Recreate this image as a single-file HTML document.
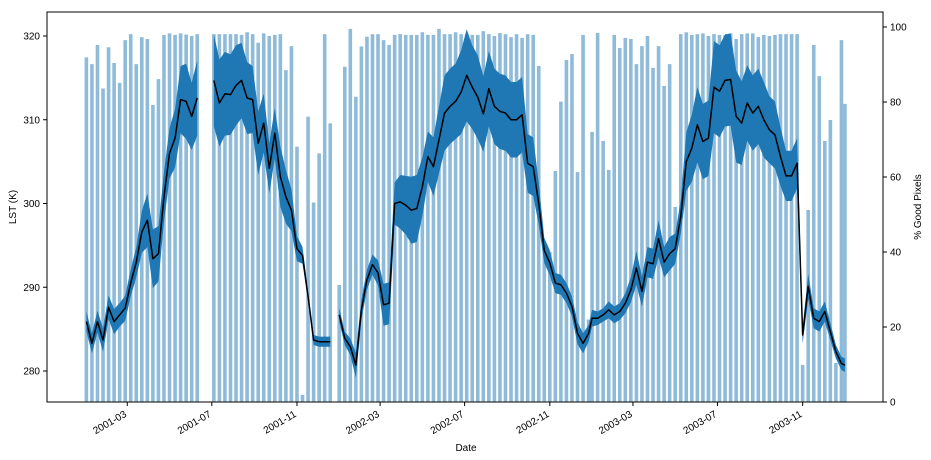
<!DOCTYPE html>
<html><head><meta charset="utf-8"><style>
body{margin:0;background:#fff;}
svg{display:block;font-family:"Liberation Sans",sans-serif;}
</style></head><body>
<svg id="chart" width="931" height="460"></svg>
<script>
const years=[2001,2002,2003,2004];
const compositesPerYear=[46,46,46,1];
const goodPct=[91.9,90.1,95.2,83.6,94.6,90.4,85.1,96.5,98.1,90.1,97.3,96.8,79.2,86.1,97.9,98.3,97.9,98.3,98.0,97.6,98.1,null,null,98.1,98.1,98.1,98.1,98.1,97.9,98.6,98.1,95.8,98.3,97.6,97.9,98.1,88.5,94.9,68.1,1.9,76.1,53.2,66.3,98.1,74.3,null,
31.2,89.4,99.5,81.4,94.8,97.4,98.1,98.1,96.5,95.2,97.9,98.1,97.9,97.9,97.9,98.6,97.9,97.9,99.5,98.1,98.1,98.6,98.1,98.1,97.9,97.9,98.9,98.1,97.6,98.4,98.1,97.3,98.1,97.1,98.1,97.9,89.6,40,40,61.6,80.1,91.2,92.8,61.3,97.9,22,
72.0,98.4,69.6,61.9,97.9,94.4,97.1,96.8,90.1,94.9,97.6,89.1,94.9,84.3,90.1,52.0,98.1,98.6,97.9,98.1,98.3,97.6,98.1,97.9,97.9,98.3,96.8,98.1,98.3,98.3,97.3,97.9,97.6,97.9,98.1,98.1,98.1,98.1,9.9,51.2,95.2,86.9,69.6,75.2,10.4,96.5,
79.5];
const lstMean=[285.9,283.3,285.9,283.7,287.6,285.9,286.7,287.5,290.5,293.0,296.6,298.0,293.4,294.0,300.8,306.0,307.8,312.4,312.2,310.4,312.6,null,null,314.7,312.0,313.1,313.0,314.1,314.7,312.6,312.4,307.2,309.6,304.2,308.4,303.2,300.8,299.2,294.6,293.8,288.9,283.7,283.5,283.5,283.5,null,
286.7,283.9,282.9,280.7,287.3,290.9,292.7,291.7,287.9,288.1,300.0,300.2,299.8,299.2,299.4,302.0,305.6,304.4,307.6,310.8,311.6,312.2,313.3,315.3,313.9,312.7,310.7,313.7,311.6,311.0,310.8,310.0,310.0,310.6,304.8,304.4,300.0,294.4,292.9,290.5,290.3,289.3,287.7,284.5,283.3,284.5,
286.3,286.3,286.7,287.3,286.7,287.1,288.1,289.7,292.3,289.5,293.0,292.8,295.8,293.0,294.0,294.6,298.4,305.0,306.6,309.4,307.4,307.8,313.9,313.4,314.7,314.8,310.4,309.6,312.0,310.8,311.6,310.0,308.8,308.2,305.6,303.3,303.3,304.8,284.3,290.1,286.3,285.9,287.1,284.7,282.3,280.9,
280.7];
const lstStd=[1.2,1.2,1.3,1.4,1.4,1.5,1.4,1.5,1.6,1.8,2.5,3.2,3.5,3.3,3.0,3.0,3.5,4.0,4.5,4.0,4.5,null,null,5.5,5.2,5.0,4.8,4.8,4.5,4.3,4.0,3.8,3.5,3.0,3.0,3.6,3.2,2.5,1.5,1.0,0.6,0.6,0.6,0.6,0.6,null,
0.8,0.8,1.0,1.5,1.2,1.2,1.2,1.5,2.5,2.5,2.5,3.2,3.5,4.0,4.0,3.5,3.0,3.5,4.0,4.5,4.5,4.5,5.0,5.5,5.0,5.0,4.5,4.5,4.5,4.5,4.5,4.5,4.5,4.5,3.5,3.5,2.5,1.5,1.5,1.2,1.2,1.2,1.2,1.3,1.2,1.0,
1.0,0.8,0.8,1.0,1.0,1.0,1.2,1.5,2.0,1.8,1.8,1.8,2.2,1.8,2.0,1.8,2.0,3.5,4.0,4.5,4.5,4.5,5.5,5.5,5.5,5.5,5.5,5.0,4.5,4.5,4.5,4.5,4.0,4.0,3.5,3.0,3.0,3.0,1.0,1.5,1.2,1.2,1.2,1.0,0.8,0.8,
0.8];
const lstTicks=[280,290,300,310,320];
const pctTicks=[0,20,40,60,80,100];
const dateTicks=["2001-03","2001-07","2001-11","2002-03","2002-07","2002-11","2003-03","2003-07","2003-11"];

const L=47,R=883,T=12,B=402;
const DAY=86400000, T0=Date.UTC(2001,0,1);
function xScale(ms){return 86.4+(ms-T0)/DAY*0.6927;}
function yL(v){return 36+(320-v)*8.375;}
function yR(p){return B-p*3.75;}
const dates=[];
years.forEach((y,yi)=>{for(let k=0;k<compositesPerYear[yi];k++)dates.push(Date.UTC(y,0,1)+k*8*DAY);});

const NS="http://www.w3.org/2000/svg";
const svg=document.getElementById('chart');
function mk(tag,attrs,parent){const e=document.createElementNS(NS,tag);for(const k in attrs)e.setAttribute(k,attrs[k]);(parent||svg).appendChild(e);return e;}

// bars
const gb=mk('g',{});


dates.forEach((d,i)=>{
  const p=goodPct[i]; if(p==null)return;
  const x=xScale(d);
  const r=mk('rect',{x:(x-1.8).toFixed(2),y:yR(p).toFixed(2),width:3.6,height:(B-yR(p)).toFixed(2),fill:'#8fbbd9'},gb);
  
  
});
// segments of LST
const segs=[];let cur=[];
dates.forEach((d,i)=>{if(lstMean[i]==null){if(cur.length)segs.push(cur);cur=[];}else cur.push(i);});
if(cur.length)segs.push(cur);
segs.forEach(s=>{
  const up=s.map(i=>xScale(dates[i]).toFixed(2)+','+yL(lstMean[i]+lstStd[i]).toFixed(2));
  const dn=s.slice().reverse().map(i=>xScale(dates[i]).toFixed(2)+','+yL(lstMean[i]-lstStd[i]).toFixed(2));
  const band=mk('polygon',{points:up.concat(dn).join(' '),fill:'#1f77b4'});
  
  
});
segs.forEach(s=>{
  const pts=s.map(i=>xScale(dates[i]).toFixed(2)+','+yL(lstMean[i]).toFixed(2));
  const line=mk('polyline',{points:pts.join(' '),fill:'none',stroke:'#000','stroke-width':1.5,'stroke-linejoin':'round'});
  
  
});
// frame
const fr=mk('rect',{x:L,y:T,width:R-L,height:B-T,fill:'none',stroke:'#000','stroke-width':1});


// left ticks
lstTicks.forEach(v=>{
  const y=yL(v);
  mk('line',{x1:L-4,x2:L,y1:y,y2:y,stroke:'#000'});
  const t=mk('text',{x:L-7,y:y+3.5,'text-anchor':'end','font-size':10,fill:'#000'});
  t.textContent=v;
  
  
});
pctTicks.forEach(v=>{
  const y=yR(v);
  mk('line',{x1:R,x2:R+4,y1:y,y2:y,stroke:'#000'});
  const t=mk('text',{x:R+7,y:y+3.5,'text-anchor':'start','font-size':10,fill:'#000'});
  t.textContent=v;
  
  
});
dateTicks.forEach(s=>{
  const [yy,mm]=s.split('-').map(Number);
  const x=xScale(Date.UTC(yy,mm-1,1));
  mk('line',{x1:x,x2:x,y1:B,y2:B+4,stroke:'#000'});
  const t=mk('text',{x:x,y:B+14,'text-anchor':'end','font-size':10,fill:'#000',transform:`rotate(-30 ${x} ${B+14})`});
  t.textContent=s;
  
  
});
const yl=mk('text',{x:16,y:(T+B)/2,'text-anchor':'middle','font-size':10,transform:`rotate(-90 16 ${(T+B)/2})`});
yl.textContent='LST (K)';


const yr=mk('text',{x:921,y:(T+B)/2,'text-anchor':'middle','font-size':10,transform:`rotate(-90 921 ${(T+B)/2})`});
yr.textContent='% Good Pixels';


const xl=mk('text',{x:466,y:451,'text-anchor':'middle','font-size':10});
xl.textContent='Date';


</script>
</body></html>
